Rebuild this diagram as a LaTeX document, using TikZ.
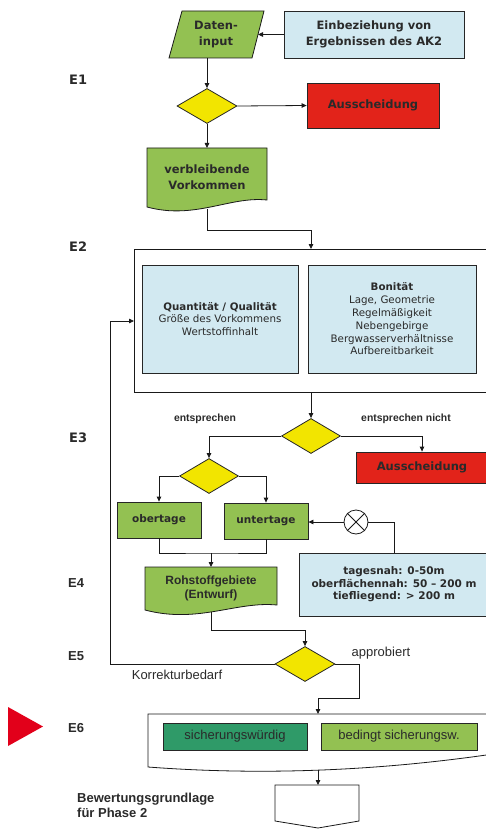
\documentclass[tikz,border=0pt]{standalone}
\usepackage{fontspec}
\setmainfont{DejaVu Sans}
\newfontfamily\arialfont{Liberation Sans}
\usepackage{tikz}
\usetikzlibrary{arrows.meta, shapes.geometric, positioning, calc}
\definecolor{AKgreen}{HTML}{93C152}
\definecolor{AKdark}{HTML}{2F9A68}
\definecolor{AKblue}{HTML}{D2E9F1}
\definecolor{AKred}{HTML}{E2231A}
\definecolor{AKyellow}{HTML}{F2E500}
\definecolor{AKtri}{HTML}{E2001A}
\definecolor{AKtext}{HTML}{2A2A2A}
% Schriften
\newcommand{\fbold}{\bfseries\fontsize{11.5}{16}\selectfont}
\newcommand{\fmid}{\bfseries\fontsize{10.5}{12.6}\selectfont}
\newcommand{\freg}{\fontsize{10.3}{12.8}\selectfont}
\newcommand{\flevel}{\bfseries\fontsize{13}{15}\selectfont}
\newcommand{\farb}{\arialfont\bfseries\fontsize{12}{13.5}\selectfont}
\newcommand{\fars}{\arialfont\bfseries\fontsize{10.4}{12}\selectfont}
\newcommand{\farr}{\arialfont\fontsize{13}{15}\selectfont}
\newcommand{\farl}{\arialfont\bfseries\fontsize{13}{15}\selectfont}

\begin{document}
\begin{tikzpicture}[x=1pt, y=-1pt,
  line/.style={draw=black!90, line width=0.8pt},
  arrow/.style={line, -{Triangle[length=5pt, width=4.5pt]}},
  plain/.style={inner sep=0pt, align=center, text=AKtext},
  box/.style={draw=black!85, line width=0.8pt, inner sep=0pt, align=center, text=AKtext},
  greenbox/.style={box, fill=AKgreen, font=\fbold},
  bluebox/.style={box, fill=AKblue},
  redbox/.style={box, fill=AKred, font=\fbold},
  decision/.style={diamond, draw=black!85, line width=0.8pt, fill=AKyellow,
    minimum width=60, minimum height=35, inner sep=0pt},
  level/.style={inner sep=0pt, anchor=west, text=AKtext},
  note/.style={inner sep=0pt, text=AKtext}]

  \clip (0,0) rectangle (486,829);

  % Ebene E1
  \draw[line, fill=AKgreen] (182,11) -- (264,11) -- (252,58) -- (169,58) -- cycle;
  \node[plain, font=\fbold] (daten) at (216,35) {Daten-\\input};
  \coordinate (datenR) at (258,34.5);
  \coordinate (datenB) at (207,58);
  \node[bluebox, font=\fbold, minimum width=180, minimum height=47] (einb) at (374,34.5)
    {Einbeziehung von\\Ergebnissen des AK2};
  \draw[arrow] (einb.west) -- (datenR);

  \node[decision] (d1) at (207,106) {};
  \draw[arrow] (datenB) -- (d1.north);
  \node[redbox, minimum width=132, minimum height=45] (aus1) at (373,105.5) {Ausscheidung};
  \draw[arrow] (d1.east) -- (aus1.west);

  % verbleibende Vorkommen
  \draw[line, fill=AKgreen] (147,148) -- (267,148) -- (267,200)
    .. controls (230,196) and (195,220) .. (147,207) -- cycle;
  \node[plain, font=\fbold] (verbl) at (207,177) {verbleibende\\Vorkommen};
  \coordinate (verblT) at (207,148);
  \coordinate (verblB) at (207,209);
  \draw[arrow] (d1.south) -- (verblT);

  % Ebene E2
  \draw[line, fill=white] (134,249) rectangle (500,392);
  \coordinate (e2T) at (311,249);
  \coordinate (e2B) at (311,392);
  \coordinate (e2L) at (134,321);
  \draw[arrow] (verblB) -- ++(0,21) -| (e2T);
  \node[bluebox, font=\freg, minimum width=156, minimum height=108] (qual) at (220,319)
    {{\bfseries Quantität / Qualität}\\Größe des Vorkommens\\Wertstoffinhalt};
  \node[bluebox, font=\freg, minimum width=168, minimum height=108] (bonit) at (392,319)
    {{\bfseries Bonität}\\Lage, Geometrie\\Regelmäßigkeit\\Nebengebirge\\Bergwasserverhältnisse\\Aufbereitbarkeit};

  % Ebene E3
  \node[decision, minimum width=59] (d2) at (311,436) {};
  \draw[arrow] (e2B) -- (d2.north);
  \node[note, font=\fars] (ja) at (205,419) {entsprechen};
  \node[note, font=\fars] (nein) at (406,419) {entsprechen nicht};
  \node[redbox, minimum width=132, minimum height=31] (aus2) at (422,467.5) {Ausscheidung};
  \draw[arrow] (d2.east) -| (aus2.north);
  \node[decision, minimum width=59] (d3) at (209,476) {};
  \draw[arrow] (d2.west) -| (d3.north);
  \node[greenbox, font=\fmid, minimum width=84, minimum height=36] (ober) at (159,520) {obertage};
  \node[greenbox, font=\fmid, minimum width=84, minimum height=36] (unter) at (266,521) {untertage};
  \draw[arrow] (d3.west) -| (ober.north);
  \draw[arrow] (d3.east) -| (unter.north);

  % Tiefenlage
  \node[circle, draw=black!90, line width=0.8pt, fill=white, minimum size=24, inner sep=0pt] (kreuz) at (356,522) {};
  \draw[line] (kreuz.north west) -- (kreuz.south east) (kreuz.north east) -- (kreuz.south west);
  \draw[arrow] (kreuz.west) -- (kreuz.west -| unter.east);
  \node[bluebox, font=\fmid, minimum width=190, minimum height=63] (tiefe) at (394,584.5)
    {tagesnah: 0-50m\\oberflächennah: 50 – 200 m\\tiefliegend: > 200 m};
  \draw[line] (kreuz.east) -| (tiefe.north);

  % Ebene E4
  \draw[line, fill=AKgreen] (145,567) -- (277,567) -- (277,605)
    .. controls (236,601) and (198,624) .. (145,610) -- cycle;
  \node[plain, font=\farb] (rohst) at (211,588.5) {Rohstoffgebiete\\(Entwurf)};
  \coordinate (rohstT) at (211,567);
  \coordinate (rohstB) at (211,612);
  \coordinate (sammel) at (211,553);
  \draw[line] (ober.south) |- (sammel) -| (unter.south);
  \draw[arrow] (sammel) -- (rohstT);

  % Ebene E5
  \node[decision] (d4) at (305,664) {};
  \draw[arrow] (rohstB) -- ++(0,18) -| (d4.north);
  \coordinate (rueck) at (110,664);
  \draw[arrow] (d4.west) -- (rueck) |- (e2L);
  \node[note, font=\farr] (appr) at (381,653) {approbiert};
  \node[note, font=\farr] (korr) at (177,675) {Korrekturbedarf};

  % Ebene E6
  \draw[line, fill=white] (500,714) -- (148,714) -- (148,767)
    .. controls (280,777) and (400,768) .. (500,753);
  \coordinate (e6T) at (318,714);
  \coordinate (e6B) at (318,770);
  \coordinate (weiter) at (359,698);
  \draw[arrow] (d4.east) -| (weiter) -| (e6T);
  \node[box, fill=AKdark, font=\farr, minimum width=144, minimum height=27] (sich) at (235,736.5) {sicherungswürdig};
  \node[box, fill=AKgreen, font=\farr, minimum width=156, minimum height=27] (bed) at (399,736.5) {bedingt sicherungsw.};

  % Uebergang Phase 2
  \draw[line, fill=white] (275,785) -- (359,785) -- (359,821) -- (318,828) -- (275,821) -- cycle;
  \coordinate (pentT) at (318,785);
  \draw[arrow] (e6B) -- (pentT);
  \node[level, align=left, font=\farl] (grundl) at (77,805.5) {Bewertungsgrundlage\\für Phase 2};

  % Ebenen
  \node[level, font=\flevel] (E1) at (69,80) {E1};
  \node[level, font=\flevel] (E2) at (69,247) {E2};
  \node[level, font=\flevel] (E3) at (69,438) {E3};
  \node[level, font=\farl] (E4) at (68,583) {E4};
  \node[level, font=\farl] (E5) at (68,656) {E5};
  \node[level, font=\farl] (E6) at (68,728) {E6};
  \fill[AKtri] (8,707) -- (43,726.5) -- (8,746) -- cycle;

\end{tikzpicture}
\end{document}
